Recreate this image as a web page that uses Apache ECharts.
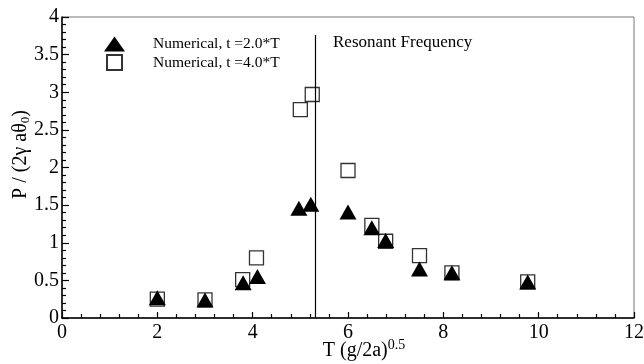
<!DOCTYPE html>
<html>
<head>
<meta charset="utf-8">
<script src="https://cdn.jsdelivr.net/npm/echarts@6/dist/echarts.min.js"></script>
<style>
  html, body { margin: 0; padding: 0; background: #fff; }
  #chart { width: 644px; height: 364px; }
</style>
</head>
<body>
<div id="chart"></div>
<script>
// T (g/2a)^0.5 values and P / (2 gamma a theta0) for each run
const tShort = [2, 3, 3.8, 4.1, 4.97, 5.22, 6.0, 6.5, 6.79, 7.5, 8.18, 9.77];
const pShort = [0.27, 0.24, 0.47, 0.55, 1.46, 1.51, 1.41, 1.20, 1.03, 0.65, 0.60, 0.48];
const tLong = [2, 3, 3.79, 4.08, 5.0, 5.25, 6.0, 6.5, 6.79, 7.5, 8.18, 9.77];
const pLong = [0.25, 0.24, 0.51, 0.80, 2.77, 2.97, 1.96, 1.23, 1.02, 0.83, 0.60, 0.48];
const resonance = 5.31;
const resonanceTop = 3.76;
const seriesNames = ['Numerical, t =2.0*T', 'Numerical, t =4.0*T'];

const serif = '"Liberation Serif", "DejaVu Serif", serif';
const chart = echarts.init(document.getElementById('chart'));

const zip = (xs, ys) => xs.map((x, i) => [x, ys[i]]);

chart.setOption({
  animation: false,
  backgroundColor: '#fff',
  grid: {
    left: 62, right: 10, top: 17, bottom: 46,
    outerBoundsMode: 'none', containLabel: false,
    show: true, borderColor: '#777', borderWidth: 1
  },
  legend: {
    data: [
      { name: seriesNames[0] },
      { name: seriesNames[1], icon: 'path://M0,0H10V10H0Z' }
    ],
    orient: 'vertical',
    left: 104, top: 36, padding: 0,
    itemWidth: 21, itemHeight: 15, itemGap: 2,
    symbolKeepAspect: true,
    textStyle: { fontFamily: serif, fontSize: 15.5, color: '#000', padding: [6, 0, 0, 23] }
  },
  xAxis: {
    type: 'value', min: 0, max: 12, interval: 2,
    name: '{a|T (g/2a)}{p|0.5}',
    nameLocation: 'middle', nameGap: 20, nameMoveOverlap: false,
    nameTextStyle: {
      padding: [0, 0, 0, 32],
      rich: {
        a: { fontFamily: serif, fontSize: 20, color: '#000' },
        p: { fontFamily: serif, fontSize: 14, color: '#000', padding: [0, 0, 11, 0] }
      }
    },
    axisLine: { lineStyle: { color: '#000', width: 1.5 } },
    axisTick: { inside: true, length: 6, lineStyle: { color: '#000', width: 1.2 } },
    minorTick: { show: true, splitNumber: 5, length: 4, lineStyle: { color: '#000', width: 1.2 } },
    axisLabel: { fontFamily: serif, fontSize: 20, color: '#000', margin: 5 },
    splitLine: { show: false }
  },
  yAxis: {
    type: 'value', min: 0, max: 4, interval: 0.5,
    name: '{a|P / (2γ aθ}{s|0}{a|)}',
    nameLocation: 'middle', nameRotate: 90, nameGap: 30, nameMoveOverlap: false,
    nameTextStyle: {
      padding: [0, 0, 0, 26],
      rich: {
        a: { fontFamily: serif, fontSize: 20, color: '#000' },
        s: { fontFamily: serif, fontSize: 13, color: '#000', padding: [9, 0, 0, 0] }
      }
    },
    axisLine: { lineStyle: { color: '#000', width: 1.5 } },
    axisTick: { inside: true, length: 7, lineStyle: { color: '#000', width: 1.2 } },
    minorTick: { show: true, splitNumber: 5, length: 4, lineStyle: { color: '#000', width: 1.2 } },
    axisLabel: { fontFamily: serif, fontSize: 20, color: '#000', margin: 3 },
    splitLine: { show: false }
  },
  series: [
    {
      name: seriesNames[1],
      type: 'scatter',
      symbol: 'rect',
      symbolSize: 14,
      itemStyle: { color: '#fff', borderColor: '#333', borderWidth: 1.3, opacity: 1 },
      data: zip(tLong, pLong),
      z: 2
    },
    {
      name: seriesNames[0],
      type: 'scatter',
      symbol: 'triangle',
      symbolSize: [17, 15],
      itemStyle: { color: '#000', opacity: 1 },
      data: zip(tShort, pShort),
      z: 3,
      markLine: {
        silent: true,
        symbol: 'none',
        label: { show: false },
        lineStyle: { color: '#000', width: 1.2, type: 'solid' },
        data: [[{ coord: [resonance, 0] }, { coord: [resonance, resonanceTop] }]]
      }
    }
  ],
  graphic: [{
    type: 'text',
    left: 333, top: 34,
    style: { text: 'Resonant Frequency', font: '17px ' + serif, fill: '#000' }
  }]
});
</script>
</body>
</html>
